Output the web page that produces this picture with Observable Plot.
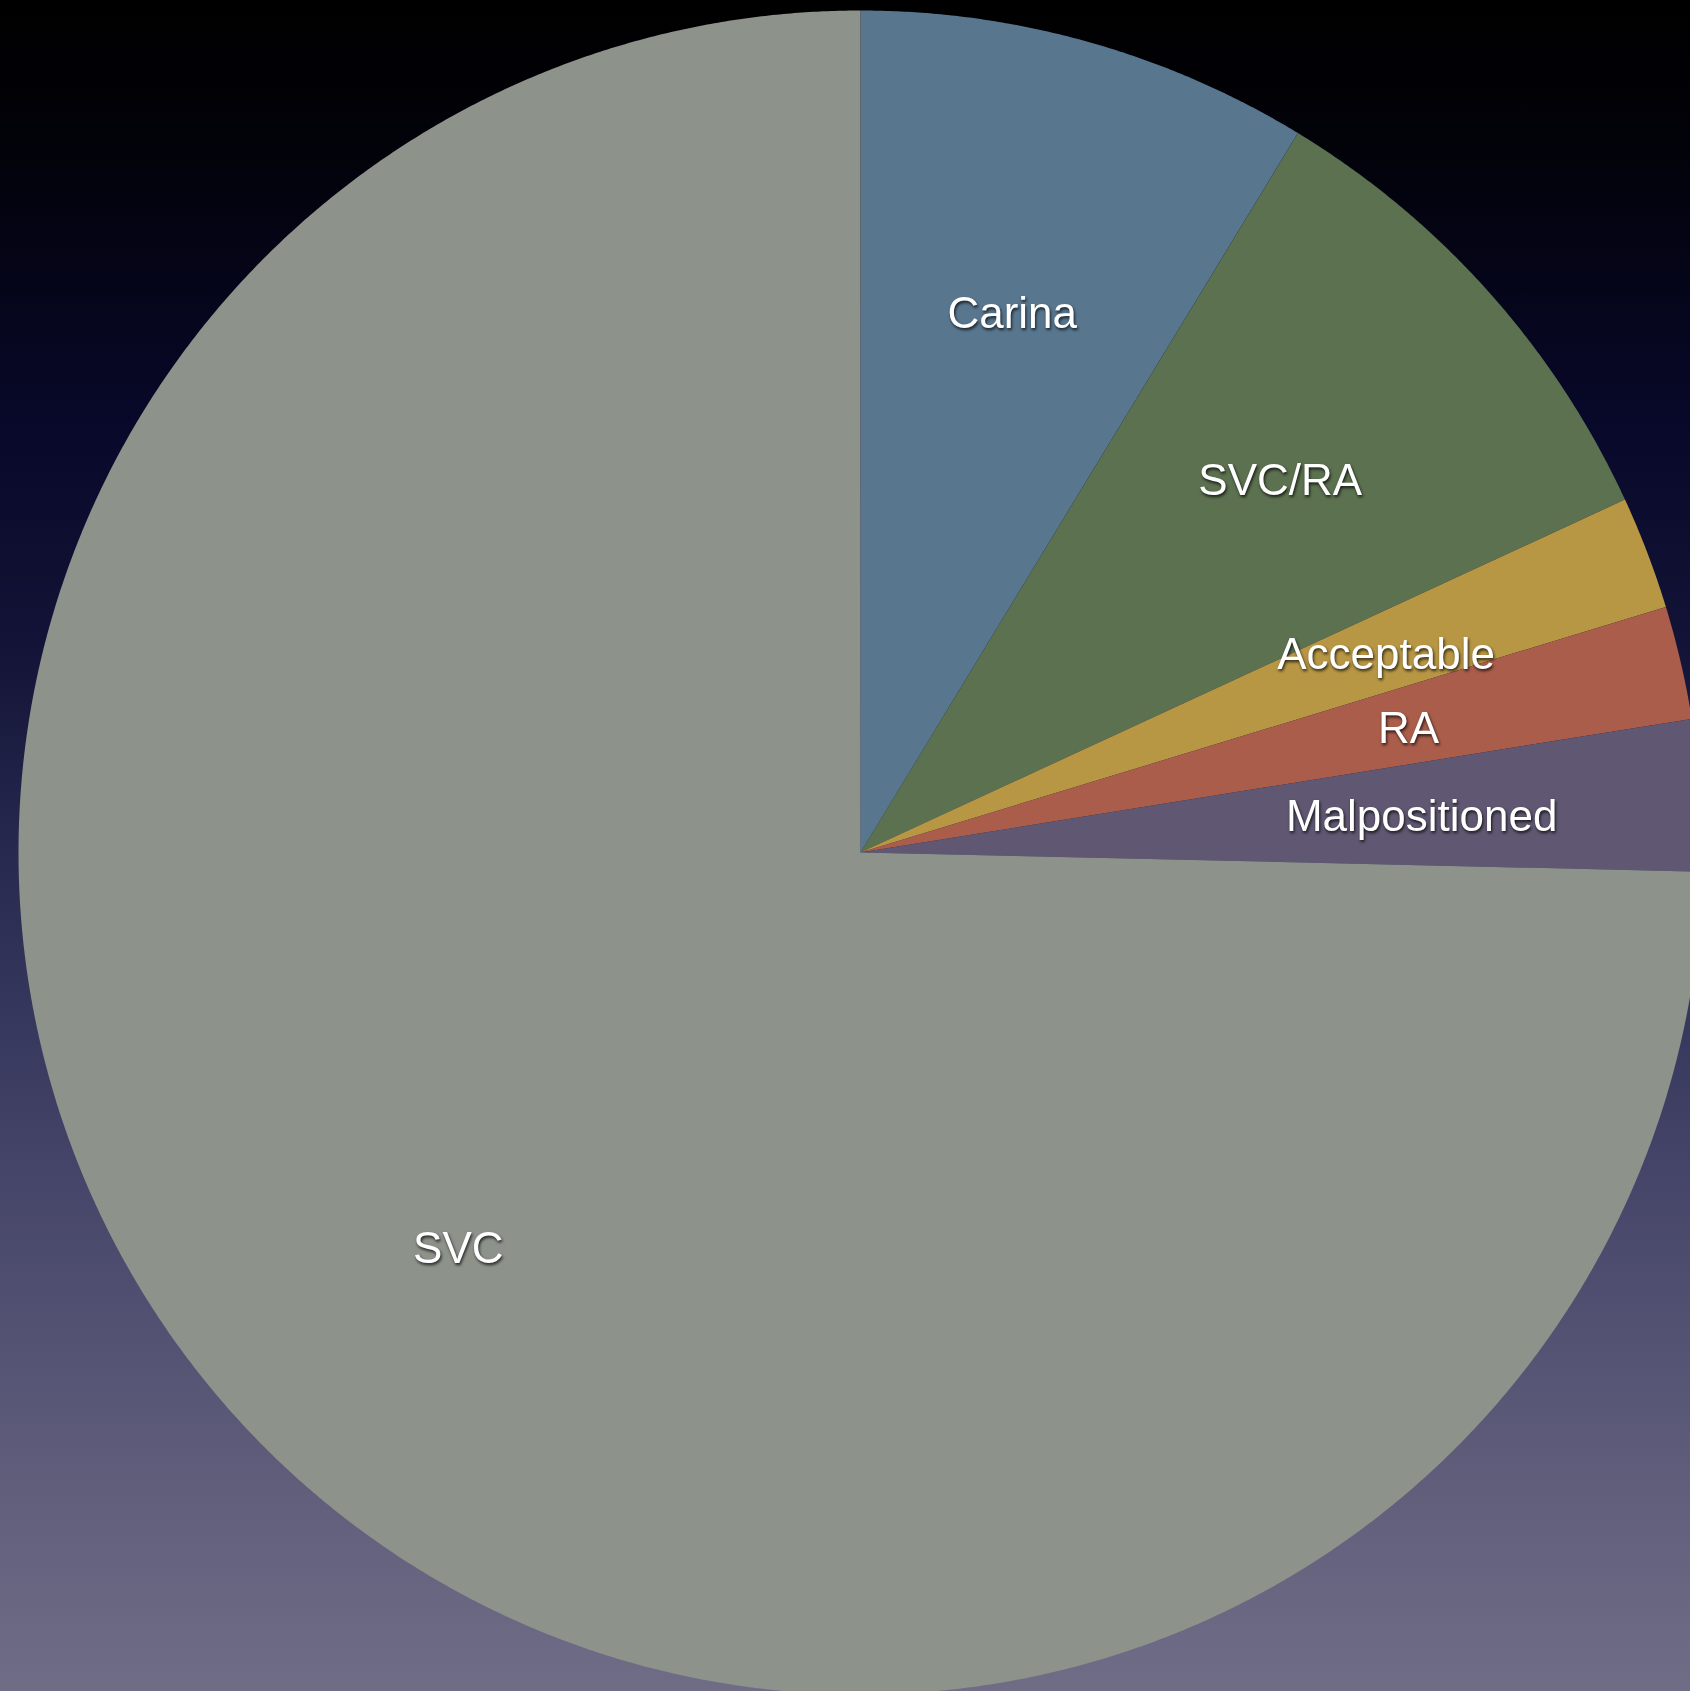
<!DOCTYPE html>
<html>
<head>
<meta charset="utf-8">
<script src="https://cdn.jsdelivr.net/npm/d3@7"></script>
<script src="https://cdn.jsdelivr.net/npm/@observablehq/plot@0.6"></script>
<style>
  html, body { margin: 0; padding: 0; }
  #chart {
    width: 1690px; height: 1691px; overflow: hidden;
    background: linear-gradient(to bottom, #000000 0%, #02020a 9%, #08082a 25%, #121336 38%, #282a50 51%, #46466a 70%, #605e7b 88%, #6f6d86 100%);
  }
  #chart svg { background: transparent; display: block; }
  #chart svg text { filter: drop-shadow(1px 2px 1.5px rgba(0,0,0,0.75)); }
</style>
</head>
<body>
<div id="chart"></div>
<script>
// Data (clockwise from 12 o'clock)
const categories = ["Carina", "SVC/RA", "Acceptable", "RA", "Malpositioned", "SVC"];
const counts = [12, 13, 3, 3, 4, 103];
const colors = ["#58778f", "#5c7150", "#b89744", "#aa5d4b", "#605872", "#8d928b"];

const W = 1690, H = 1691;
const R = 842;           // pie radius (data units = px)
const labelRadius = 0.668;

const table = categories.map((c, i) => ({category: c, value: counts[i]}));
const arcs = d3.pie().value(d => d.value).sort(null)(table);

// polygon outline for each slice
const slicePts = [];
for (const a of arcs) {
  const cat = a.data.category;
  slicePts.push({category: cat, x: 0, y: 0});
  const steps = Math.max(4, Math.ceil((a.endAngle - a.startAngle) / (Math.PI / 720)));
  for (let k = 0; k <= steps; k++) {
    const t = a.startAngle + (a.endAngle - a.startAngle) * k / steps;
    slicePts.push({category: cat, x: R * Math.sin(t), y: R * Math.cos(t)});
  }
  slicePts.push({category: cat, x: 0, y: 0});
}

const labels = arcs.map(a => {
  const m = (a.startAngle + a.endAngle) / 2;
  return {category: a.data.category, x: labelRadius * R * Math.sin(m), y: labelRadius * R * Math.cos(m)};
});

const cx = 860, cy = 852;
const plot = Plot.plot({
  width: W, height: H,
  margin: 0,
  style: {background: "transparent", overflow: "hidden"},
  x: {domain: [-cx, W - cx], range: [0, W], axis: null},
  y: {domain: [-(H - cy), cy], range: [H, 0], axis: null},
  color: {domain: categories, range: colors},
  marks: [
    Plot.line(slicePts, {x: "x", y: "y", z: "category", fill: "category", stroke: "none", curve: "linear"}),
    Plot.text(labels, {x: "x", y: "y", text: "category", fill: "white", dy: 3,
      fontSize: 44, fontFamily: "Liberation Sans, Arial, Helvetica, sans-serif", textAnchor: "middle"})
  ]
});
document.getElementById("chart").appendChild(plot);
</script>
</body>
</html>
